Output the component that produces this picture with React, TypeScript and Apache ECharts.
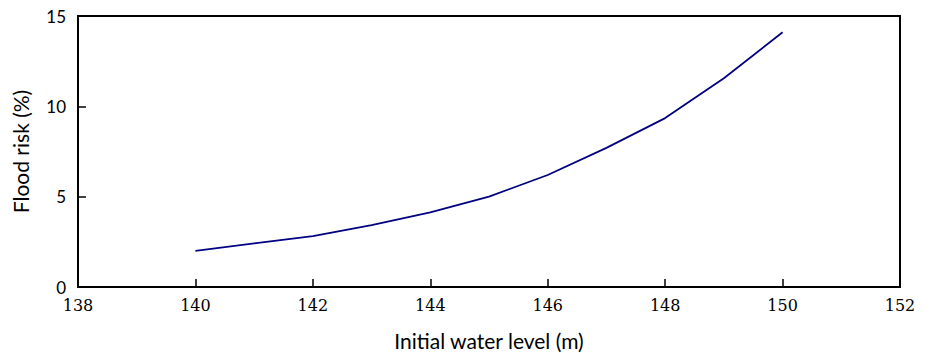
import React, { useEffect, useRef } from "react";
import * as echarts from "echarts";

const waterLevels = [140, 141, 142, 143, 144, 145, 146, 147, 148, 149, 150];
const floodRisk = [2.0, 2.42, 2.82, 3.43, 4.13, 5.0, 6.2, 7.7, 9.35, 11.55, 14.1];

const SERIF = "DejaVu Serif";

export default function App() {
  const ref = useRef<HTMLDivElement>(null);
  useEffect(() => {
    if (!ref.current) return;
    const chart = echarts.init(ref.current, null, { renderer: "svg" });
    chart.setOption({
      animation: false,
      backgroundColor: "#ffffff",
      grid: {
        left: 78,
        right: 30,
        top: 16,
        bottom: 66,
        show: true,
        borderColor: "#000",
        borderWidth: 2,
        containLabel: false,
        outerBoundsMode: "none",
      },
      xAxis: {
        type: "value",
        min: 138,
        max: 152,
        interval: 2,
        name: "Initial water level (m)",
        nameLocation: "middle",
        nameGap: 43,
        nameTextStyle: { fontFamily: "Lato", fontSize: 21, color: "#000" },
        axisLine: { show: true, lineStyle: { color: "#000", width: 2 } },
        axisTick: { show: true, inside: true, length: 8, lineStyle: { color: "#000", width: 1.5 } },
        axisLabel: {
          fontFamily: SERIF,
          fontSize: 16,
          color: "#000",
          margin: 10,
        },
        splitLine: { show: false },
      },
      yAxis: {
        type: "value",
        min: 0,
        max: 15,
        interval: 5,
        name: "Flood risk (%)",
        nameLocation: "middle",
        nameGap: 47,
        nameRotate: 90,
        nameTextStyle: { fontFamily: "Lato", fontSize: 21, color: "#000" },
        axisLine: { show: true, lineStyle: { color: "#000", width: 2 } },
        axisTick: { show: true, inside: true, length: 8, lineStyle: { color: "#000", width: 1.5 } },
        axisLabel: { fontFamily: "Lato", fontSize: 17, color: "#000", margin: 12 },
        splitLine: { show: false },
      },
      series: [
        {
          type: "line",
          data: waterLevels.map((x, i) => [x, floodRisk[i]]),
          showSymbol: false,
          symbol: "none",
          lineStyle: { color: "#000080", width: 1.8 },
        },
      ],
    });
    return () => chart.dispose();
  }, []);
  return (
    <div
      ref={ref}
      style={{ position: "absolute", left: 0, top: 0, width: 930, height: 353 }}
    />
  );
}
